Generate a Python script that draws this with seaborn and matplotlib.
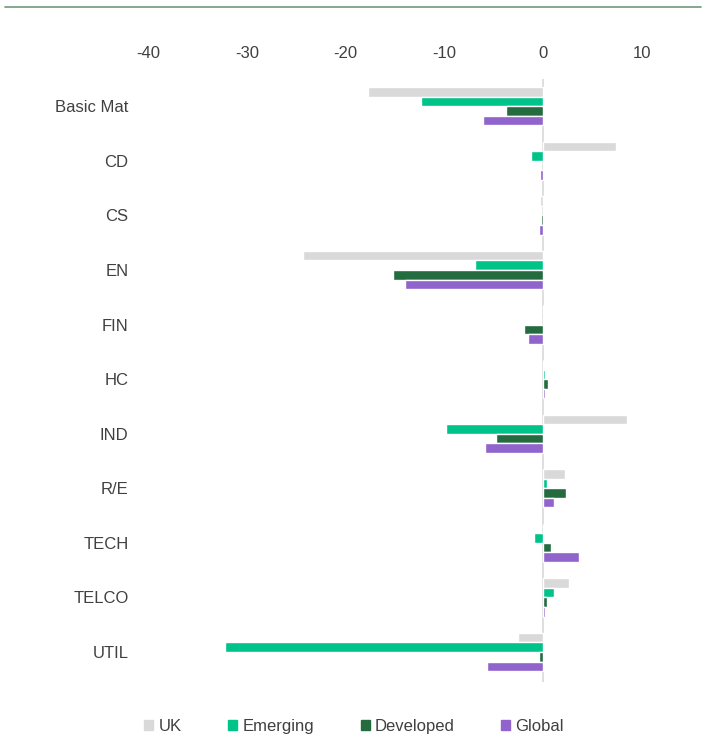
import pandas as pd
import numpy as np
import seaborn as sns
import matplotlib.pyplot as plt
from matplotlib.lines import Line2D

# Sector categories and values per region
sectors = ['Basic Mat', 'CD', 'CS', 'EN', 'FIN', 'HC', 'IND', 'R/E', 'TECH', 'TELCO', 'UTIL']
uk = [-17.7, 7.3, -0.3, -24.3, 0.0, 0.0, 8.5, 2.2, 0.0, 2.6, -2.6]
emerging = [-12.4, -1.3, 0.0, -6.9, 0.0, 0.2, -9.9, 0.4, -1.0, 1.1, -32.2]
developed = [-3.8, 0.0, -0.2, -15.2, -2.0, 0.5, -4.8, 2.3, 0.8, 0.4, -0.4]
global_ = [-6.1, -0.3, -0.4, -14.0, -1.6, 0.2, -5.9, 1.1, 3.6, 0.2, -5.7]
regions = ['UK', 'Emerging', 'Developed', 'Global']
colors = ['#d9d9d9', '#00c389', '#246b3f', '#9063cd']

df = pd.DataFrame({'sector': sectors, 'UK': uk, 'Emerging': emerging,
                   'Developed': developed, 'Global': global_})
long_df = df.melt(id_vars='sector', var_name='region', value_name='value')

sns.set_style('white')
plt.rcParams['font.family'] = ['Liberation Sans', 'DejaVu Sans']
plt.rcParams['axes.unicode_minus'] = False
text_color = '#404040'

fig = plt.figure(figsize=(7.08, 7.40), dpi=100)
ax = fig.add_axes([0.209, 0.0783, 0.768, 0.815])

sns.barplot(data=long_df, y='sector', x='value', hue='region', hue_order=regions,
            palette=colors, orient='h', width=0.70, dodge=True, ax=ax,
            errorbar=None, legend=False, saturation=1)

ax.set_xlim(-40, 15)
ax.set_xticks([-40, -30, -20, -10, 0, 10])
ax.xaxis.tick_top()
ax.tick_params(axis='x', length=0, labelsize=12, colors=text_color, pad=13)
ax.tick_params(axis='y', length=0, labelsize=12, colors=text_color, pad=14)
ax.set_xlabel('')
ax.set_ylabel('')
for s in ax.spines.values():
    s.set_visible(False)
ax.axvline(0, color='#d9d9d9', lw=1.2, zorder=0)
ax.set_ylim(len(sectors) - 0.45, -0.5)

handles = [plt.Rectangle((0, 0), 1, 1, color=c) for c in colors]
fig.legend(handles, regions, loc='center', bbox_to_anchor=(0.5, 0.018), ncol=4,
           frameon=False, fontsize=12, labelcolor=text_color, handlelength=0.55,
           handleheight=0.55, handletextpad=0.3, columnspacing=2.8)

# thin rule along the top
fig.add_artist(Line2D([0.007, 0.99], [0.99, 0.99], color='#6f9a78', lw=1.2))

fig.savefig('out.png', dpi=100)
